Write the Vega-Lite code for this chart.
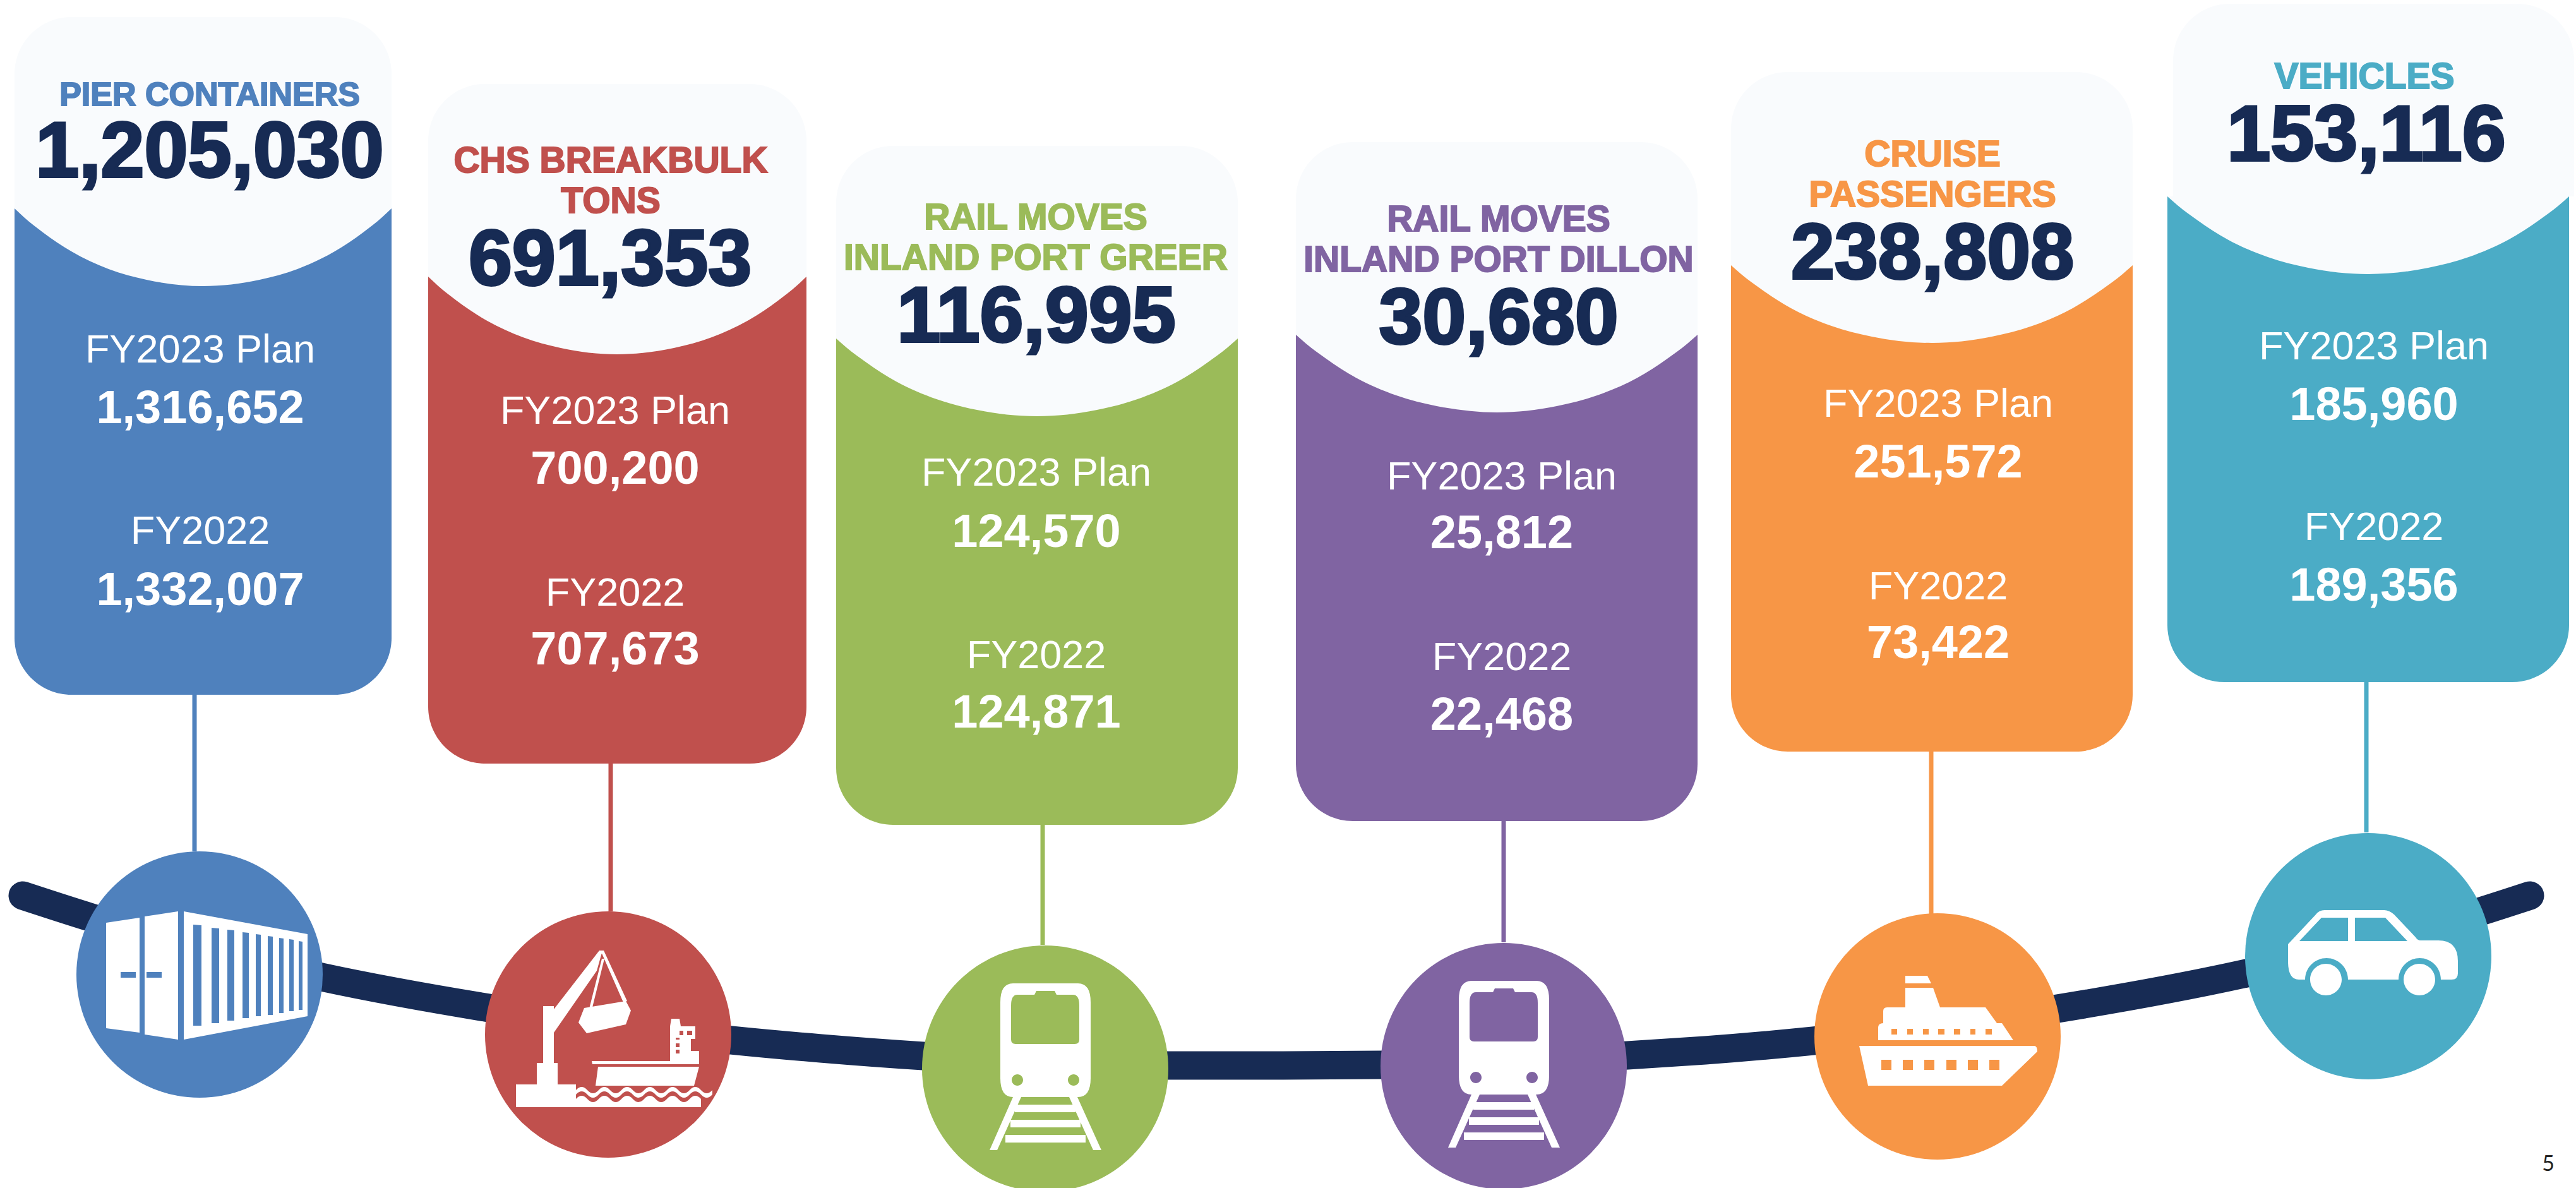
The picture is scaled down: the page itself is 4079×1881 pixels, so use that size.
{"$schema":"https://vega.github.io/schema/vega-lite/v6.json","width":4079,"height":1881,"padding":0,"autosize":{"type":"fit","contains":"padding"},"background":"#ffffff","config":{"view":{"stroke":null},"text":{"font":"Liberation Sans"}},
"datasets":{
"route":[{"px":36,"py":1418},{"px":145,"py":1453},{"px":509,"py":1547},{"px":774,"py":1596},{"px":1158,"py":1647},{"px":1300,"py":1660},{"px":1462,"py":1672},{"px":1849,"py":1687},{"px":2013,"py":1687},{"px":2187,"py":1686},{"px":2577,"py":1671},{"px":2700,"py":1663},{"px":2871,"py":1648},{"px":3258,"py":1597},{"px":3557,"py":1541},{"px":3922,"py":1445},{"px":4006,"py":1418}],
"cards":[
{"card":"pier","left":23,"right":620,"lightLeft":23,"lightRight":620,"top":27,"join":330,"bottom":1100,"cx":316,"cy":1543,"ruleX":308,"circleTop":1348,"icon":"container","actual":1205030,"actualX":332,"actualY":280},
{"card":"breakbulk","left":678,"right":1277,"lightLeft":678,"lightRight":1277,"top":133,"join":438,"bottom":1209,"cx":963,"cy":1638,"ruleX":967,"circleTop":1443,"icon":"crane","actual":691353,"actualX":966,"actualY":451},
{"card":"greer","left":1324,"right":1960,"lightLeft":1324,"lightRight":1960,"top":231,"join":536,"bottom":1306,"cx":1655,"cy":1692,"ruleX":1651,"circleTop":1496,"icon":"train","actual":116995,"actualX":1641,"actualY":541},
{"card":"dillon","left":2052,"right":2688,"lightLeft":2052,"lightRight":2688,"top":225,"join":530,"bottom":1300,"cx":2381,"cy":1688,"ruleX":2381,"circleTop":1492,"icon":"train","actual":30680,"actualX":2373,"actualY":544},
{"card":"cruise","left":2741,"right":3377,"lightLeft":2741,"lightRight":3377,"top":114,"join":420,"bottom":1190,"cx":3068,"cy":1641,"ruleX":3058,"circleTop":1449,"icon":"ship","actual":238808,"actualX":3060,"actualY":441},
{"card":"vehicles","left":3432,"right":4068,"lightLeft":3441,"lightRight":4076,"top":6,"join":311,"bottom":1080,"cx":3750,"cy":1514,"ruleX":3747,"circleTop":1318,"icon":"car","actual":153116,"actualX":3747,"actualY":254}],
"arcs":[
{"card":"pier","ax":23,"base":330,"arc":330},{"card":"pier","ax":38,"base":330,"arc":344},{"card":"pier","ax":68,"base":330,"arc":368},{"card":"pier","ax":113,"base":330,"arc":398},{"card":"pier","ax":172,"base":330,"arc":426},{"card":"pier","ax":232,"base":330,"arc":443},{"card":"pier","ax":321,"base":330,"arc":453},{"card":"pier","ax":411,"base":330,"arc":443},{"card":"pier","ax":471,"base":330,"arc":426},{"card":"pier","ax":530,"base":330,"arc":398},{"card":"pier","ax":575,"base":330,"arc":368},{"card":"pier","ax":605,"base":330,"arc":344},{"card":"pier","ax":620,"base":330,"arc":330},
{"card":"breakbulk","ax":678,"base":438,"arc":438},{"card":"breakbulk","ax":693,"base":438,"arc":452},{"card":"breakbulk","ax":723,"base":438,"arc":476},{"card":"breakbulk","ax":768,"base":438,"arc":506},{"card":"breakbulk","ax":828,"base":438,"arc":534},{"card":"breakbulk","ax":888,"base":438,"arc":551},{"card":"breakbulk","ax":977,"base":438,"arc":561},{"card":"breakbulk","ax":1067,"base":438,"arc":551},{"card":"breakbulk","ax":1127,"base":438,"arc":534},{"card":"breakbulk","ax":1187,"base":438,"arc":506},{"card":"breakbulk","ax":1232,"base":438,"arc":476},{"card":"breakbulk","ax":1262,"base":438,"arc":452},{"card":"breakbulk","ax":1277,"base":438,"arc":438},
{"card":"greer","ax":1324,"base":536,"arc":536},{"card":"greer","ax":1340,"base":536,"arc":550},{"card":"greer","ax":1372,"base":536,"arc":574},{"card":"greer","ax":1419,"base":536,"arc":604},{"card":"greer","ax":1483,"base":536,"arc":632},{"card":"greer","ax":1547,"base":536,"arc":649},{"card":"greer","ax":1642,"base":536,"arc":659},{"card":"greer","ax":1737,"base":536,"arc":649},{"card":"greer","ax":1801,"base":536,"arc":632},{"card":"greer","ax":1865,"base":536,"arc":604},{"card":"greer","ax":1912,"base":536,"arc":574},{"card":"greer","ax":1944,"base":536,"arc":550},{"card":"greer","ax":1960,"base":536,"arc":536},
{"card":"dillon","ax":2052,"base":530,"arc":530},{"card":"dillon","ax":2068,"base":530,"arc":544},{"card":"dillon","ax":2100,"base":530,"arc":568},{"card":"dillon","ax":2147,"base":530,"arc":598},{"card":"dillon","ax":2211,"base":530,"arc":626},{"card":"dillon","ax":2275,"base":530,"arc":643},{"card":"dillon","ax":2370,"base":530,"arc":653},{"card":"dillon","ax":2465,"base":530,"arc":643},{"card":"dillon","ax":2529,"base":530,"arc":626},{"card":"dillon","ax":2593,"base":530,"arc":598},{"card":"dillon","ax":2640,"base":530,"arc":568},{"card":"dillon","ax":2672,"base":530,"arc":544},{"card":"dillon","ax":2688,"base":530,"arc":530},
{"card":"cruise","ax":2741,"base":420,"arc":420},{"card":"cruise","ax":2757,"base":420,"arc":434},{"card":"cruise","ax":2789,"base":420,"arc":458},{"card":"cruise","ax":2836,"base":420,"arc":488},{"card":"cruise","ax":2900,"base":420,"arc":516},{"card":"cruise","ax":2964,"base":420,"arc":533},{"card":"cruise","ax":3059,"base":420,"arc":543},{"card":"cruise","ax":3154,"base":420,"arc":533},{"card":"cruise","ax":3218,"base":420,"arc":516},{"card":"cruise","ax":3282,"base":420,"arc":488},{"card":"cruise","ax":3329,"base":420,"arc":458},{"card":"cruise","ax":3361,"base":420,"arc":434},{"card":"cruise","ax":3377,"base":420,"arc":420},
{"card":"vehicles","ax":3432,"base":311,"arc":311},{"card":"vehicles","ax":3448,"base":311,"arc":325},{"card":"vehicles","ax":3480,"base":311,"arc":349},{"card":"vehicles","ax":3527,"base":311,"arc":379},{"card":"vehicles","ax":3591,"base":311,"arc":407},{"card":"vehicles","ax":3655,"base":311,"arc":424},{"card":"vehicles","ax":3750,"base":311,"arc":434},{"card":"vehicles","ax":3845,"base":311,"arc":424},{"card":"vehicles","ax":3909,"base":311,"arc":407},{"card":"vehicles","ax":3973,"base":311,"arc":379},{"card":"vehicles","ax":4020,"base":311,"arc":349},{"card":"vehicles","ax":4052,"base":311,"arc":325},{"card":"vehicles","ax":4068,"base":311,"arc":311}],
"headers":[
{"card":"pier","line":"PIER CONTAINERS","tx":332,"ty":167},
{"card":"breakbulk","line":"CHS BREAKBULK","tx":967,"ty":273},
{"card":"breakbulk","line":"TONS","tx":967,"ty":337},
{"card":"greer","line":"RAIL MOVES","tx":1640,"ty":363},
{"card":"greer","line":"INLAND PORT GREER","tx":1640,"ty":427},
{"card":"dillon","line":"RAIL MOVES","tx":2373,"ty":366},
{"card":"dillon","line":"INLAND PORT DILLON","tx":2373,"ty":430},
{"card":"cruise","line":"CRUISE","tx":3060,"ty":263},
{"card":"cruise","line":"PASSENGERS","tx":3060,"ty":327},
{"card":"vehicles","line":"VEHICLES","tx":3744,"ty":140}],
"metrics":[
{"card":"pier","metric":"FY2023 Plan","value":1316652,"mx":317,"labelY":574,"valueY":670},
{"card":"pier","metric":"FY2022","value":1332007,"mx":317,"labelY":861,"valueY":958},
{"card":"breakbulk","metric":"FY2023 Plan","value":700200,"mx":974,"labelY":671,"valueY":766},
{"card":"breakbulk","metric":"FY2022","value":707673,"mx":974,"labelY":959,"valueY":1052},
{"card":"greer","metric":"FY2023 Plan","value":124570,"mx":1641,"labelY":769,"valueY":866},
{"card":"greer","metric":"FY2022","value":124871,"mx":1641,"labelY":1058,"valueY":1152},
{"card":"dillon","metric":"FY2023 Plan","value":25812,"mx":2378,"labelY":775,"valueY":868},
{"card":"dillon","metric":"FY2022","value":22468,"mx":2378,"labelY":1061,"valueY":1156},
{"card":"cruise","metric":"FY2023 Plan","value":251572,"mx":3069,"labelY":660,"valueY":756},
{"card":"cruise","metric":"FY2022","value":73422,"mx":3069,"labelY":949,"valueY":1042},
{"card":"vehicles","metric":"FY2023 Plan","value":185960,"mx":3759,"labelY":569,"valueY":665},
{"card":"vehicles","metric":"FY2022","value":189356,"mx":3759,"labelY":855,"valueY":951}],
"page":[{"pageNo":"5","tx":4035,"ty":1854}]
},
"layer":[
{"data":{"name":"route"},"mark":{"type":"line","color":"#172b54","strokeWidth":45,"strokeCap":"round","strokeJoin":"round","interpolate":"monotone"},"encoding":{"x":{"field":"px","type":"quantitative","axis":null,"scale":{"domain":[0,4079],"nice":false,"zero":false}},"y":{"field":"py","type":"quantitative","axis":null,"scale":{"domain":[1881,0],"nice":false,"zero":false}}}},
{"data":{"name":"cards"},"mark":{"type":"rule","strokeWidth":7},"encoding":{"x":{"field":"ruleX","type":"quantitative","axis":null,"scale":{"domain":[0,4079],"nice":false,"zero":false}},"y":{"field":"bottom","type":"quantitative","axis":null,"scale":{"domain":[1881,0],"nice":false,"zero":false}},"y2":{"field":"circleTop"},"color":{"field":"card","type":"nominal","legend":null,"scale":{"domain":["pier","breakbulk","greer","dillon","cruise","vehicles"],"range":["#4f81bd","#c0504d","#9bbb59","#8064a2","#f79646","#4bacc6"]}}}},
{"data":{"name":"cards"},"mark":{"type":"point","shape":"circle","filled":true,"size":152100,"opacity":1,"strokeWidth":0,"clip":true},"encoding":{"x":{"field":"cx","type":"quantitative","axis":null,"scale":{"domain":[0,4079],"nice":false,"zero":false}},"y":{"field":"cy","type":"quantitative","axis":null,"scale":{"domain":[1881,0],"nice":false,"zero":false}},"color":{"field":"card","type":"nominal","legend":null}}},
{"data":{"name":"cards"},"mark":{"type":"rect","cornerRadiusBottomLeft":90,"cornerRadiusBottomRight":90},"encoding":{"x":{"field":"left","type":"quantitative","axis":null,"scale":{"domain":[0,4079],"nice":false,"zero":false}},"x2":{"field":"right"},"y":{"field":"join","type":"quantitative","axis":null,"scale":{"domain":[1881,0],"nice":false,"zero":false}},"y2":{"field":"bottom"},"color":{"field":"card","type":"nominal","legend":null}}},
{"data":{"name":"cards"},"mark":{"type":"rect","color":"#f9fbfd","cornerRadiusTopLeft":90,"cornerRadiusTopRight":90},"encoding":{"x":{"field":"lightLeft","type":"quantitative","axis":null,"scale":{"domain":[0,4079],"nice":false,"zero":false}},"x2":{"field":"lightRight"},"y":{"field":"top","type":"quantitative","axis":null,"scale":{"domain":[1881,0],"nice":false,"zero":false}},"y2":{"field":"join"}}},
{"data":{"name":"arcs"},"mark":{"type":"area","color":"#f9fbfd","interpolate":"monotone","orient":"vertical"},"encoding":{"x":{"field":"ax","type":"quantitative","axis":null,"scale":{"domain":[0,4079],"nice":false,"zero":false}},"y":{"field":"base","type":"quantitative","axis":null,"stack":null,"scale":{"domain":[1881,0],"nice":false,"zero":false}},"y2":{"field":"arc"},"detail":{"field":"card"}}},
{"data":{"name":"headers"},"transform":[{"filter":"datum.card !== 'pier'"}],"mark":{"type":"text","font":"Liberation Sans","fontWeight":"bold","fontSize":57,"align":"center","baseline":"alphabetic","strokeWidth":2},"encoding":{"x":{"field":"tx","type":"quantitative","axis":null,"scale":{"domain":[0,4079],"nice":false,"zero":false}},"y":{"field":"ty","type":"quantitative","axis":null,"scale":{"domain":[1881,0],"nice":false,"zero":false}},"text":{"field":"line"},"color":{"field":"card","type":"nominal","legend":null},"stroke":{"field":"card","type":"nominal","legend":null,"scale":{"domain":["pier","breakbulk","greer","dillon","cruise","vehicles"],"range":["#4f81bd","#c0504d","#9bbb59","#8064a2","#f79646","#4bacc6"]}}}},
{"data":{"name":"headers"},"transform":[{"filter":"datum.card === 'pier'"}],"mark":{"type":"text","font":"Liberation Sans","fontWeight":"bold","fontSize":52,"align":"center","baseline":"alphabetic","strokeWidth":2},"encoding":{"x":{"field":"tx","type":"quantitative","axis":null,"scale":{"domain":[0,4079],"nice":false,"zero":false}},"y":{"field":"ty","type":"quantitative","axis":null,"scale":{"domain":[1881,0],"nice":false,"zero":false}},"text":{"field":"line"},"color":{"field":"card","type":"nominal","legend":null},"stroke":{"field":"card","type":"nominal","legend":null}}},
{"data":{"name":"cards"},"mark":{"type":"text","font":"Liberation Sans","fontWeight":"bold","fontSize":124,"align":"center","baseline":"alphabetic","color":"#172b54","stroke":"#172b54","strokeWidth":4},"encoding":{"x":{"field":"actualX","type":"quantitative","axis":null,"scale":{"domain":[0,4079],"nice":false,"zero":false}},"y":{"field":"actualY","type":"quantitative","axis":null,"scale":{"domain":[1881,0],"nice":false,"zero":false}},"text":{"field":"actual","type":"quantitative","format":","}}},
{"data":{"name":"metrics"},"mark":{"type":"text","font":"Liberation Sans","fontSize":63,"align":"center","baseline":"alphabetic","color":"#ffffff"},"encoding":{"x":{"field":"mx","type":"quantitative","axis":null,"scale":{"domain":[0,4079],"nice":false,"zero":false}},"y":{"field":"labelY","type":"quantitative","axis":null,"scale":{"domain":[1881,0],"nice":false,"zero":false}},"text":{"field":"metric"}}},
{"data":{"name":"metrics"},"mark":{"type":"text","font":"Liberation Sans","fontWeight":"bold","fontSize":74,"align":"center","baseline":"alphabetic","color":"#ffffff"},"encoding":{"x":{"field":"mx","type":"quantitative","axis":null,"scale":{"domain":[0,4079],"nice":false,"zero":false}},"y":{"field":"valueY","type":"quantitative","axis":null,"scale":{"domain":[1881,0],"nice":false,"zero":false}},"text":{"field":"value","type":"quantitative","format":","}}},
{"data":{"name":"cards"},"transform":[{"filter":"datum.icon === 'container'"}],"mark":{"type":"point","filled":true,"size":4,"opacity":1,"fill":"#ffffff","strokeWidth":0,"shape":"M-148,-82L-95,-90V92L-148,85ZM-125,-4V5H-101V-4ZM-87,-92L-34,-100V103L-87,95ZM-84,-4V5H-60V-4ZM-25,-100L171,-64V66L-25,103ZM-10,-79V81H3V-78ZM19,-74V77H31V-73ZM44,-71V73H55V-70ZM68,-67V69H78V-66ZM89,-64V66H97V-63ZM108,-61V64H116V-60ZM126,-58V61H133V-57ZM142,-56V58H149V-55ZM157,-53V56H163V-52Z"},"encoding":{"x":{"field":"cx","type":"quantitative","axis":null,"scale":{"domain":[0,4079],"nice":false,"zero":false}},"y":{"field":"cy","type":"quantitative","axis":null,"scale":{"domain":[1881,0],"nice":false,"zero":false}}}},
{"data":{"name":"cards"},"transform":[{"filter":"datum.icon === 'crane'"}],"mark":{"type":"point","filled":true,"size":4,"opacity":1,"fill":"#ffffff","strokeWidth":0,"shape":"M-146,115V79H-113V45H-103V-45H-86V-40L-14,-133L-9,-133L-18,-101L-86,-3V45H-80V79H-51V115ZM-12,-133L-7,-133L30,-53L24,-51ZM-10,-120L-6,-120L-25,-43L-30,-41ZM-38,-42L28,-53L36,-38L28,-16L-34,-2L-47,-19ZM-16,51H144L136,81H-20ZM-26,42H105L116,26H144V47H-25ZM98,42V-13L100,-25H113L115,-13H138V7H131V42ZM107,5V8H113V5ZM107,14V20H113V14ZM107,24V30H113V24ZM113,-6V1H119V-6ZM125,-6V1H133V-6ZM-51,88q9,-10 18,0t18,0t18,0t18,0t18,0t18,0t18,0t18,0t18,0t18,0t18,0t18,0V95q-9,10 -18,0t-18,0t-18,0t-18,0t-18,0t-18,0t-18,0t-18,0t-18,0t-18,0t-18,0t-18,0ZM-51,115V102q9,-10 18,0t18,0t18,0t18,0t18,0t18,0t18,0t18,0t18,0t18,0t18,0V115Z"},"encoding":{"x":{"field":"cx","type":"quantitative","axis":null,"scale":{"domain":[0,4079],"nice":false,"zero":false}},"y":{"field":"cy","type":"quantitative","axis":null,"scale":{"domain":[1881,0],"nice":false,"zero":false}}}},
{"data":{"name":"cards"},"transform":[{"filter":"datum.icon === 'train'"}],"mark":{"type":"point","filled":true,"size":4,"opacity":1,"fill":"#ffffff","strokeWidth":0,"shape":"M-51,-135H52Q72,-135 72,-105V15Q72,45 52,45H-51Q-71,45 -71,15V-105Q-71,-135 -51,-135ZM-44,-117Q-54,-117 -54,-100V-46Q-54,-39 -47,-39H47Q54,-39 54,-46V-100Q54,-117 44,-117H18L15,-123H-14L-17,-117ZM-53,18a9,9 0 1,0 18,0a9,9 0 1,0 -18,0ZM36,18a9,9 0 1,0 18,0a9,9 0 1,0 -18,0ZM-51,45H-38L-76,129H-88ZM38,45H51L89,129H76ZM-48,57H48V69H-48ZM-55,81H56V93H-55ZM-63,105H64V117H-63Z"},"encoding":{"x":{"field":"cx","type":"quantitative","axis":null,"scale":{"domain":[0,4079],"nice":false,"zero":false}},"y":{"field":"cy","type":"quantitative","axis":null,"scale":{"domain":[1881,0],"nice":false,"zero":false}}}},
{"data":{"name":"cards"},"transform":[{"filter":"datum.icon === 'ship'"}],"mark":{"type":"point","filled":true,"size":4,"opacity":1,"fill":"#ffffff","strokeWidth":0,"shape":"M-124,15H153Q158,15 158,24L102,78H-110ZM-89,37V53H-73V37ZM-55,37V53H-39V37ZM-21,37V53H-5V37ZM14,37V53H30V37ZM48,37V53H64V37ZM82,37V53H98V37ZM-94,6V-14Q-94,-21 -86,-21V-40Q-86,-46 -80,-46H-51V-77H-7L4,-46H76L94,-21H102L120,6ZM-73,-12V-3H-64V-12ZM-48,-12V-3H-39V-12ZM-23,-12V-3H-14V-12ZM1,-12V-3H11V-12ZM26,-12V-3H36V-12ZM52,-12V-3H60V-12ZM76,-12V-3H86V-12ZM-51,-96H-16L-10,-84H-51Z"},"encoding":{"x":{"field":"cx","type":"quantitative","axis":null,"scale":{"domain":[0,4079],"nice":false,"zero":false}},"y":{"field":"cy","type":"quantitative","axis":null,"scale":{"domain":[1881,0],"nice":false,"zero":false}}}},
{"data":{"name":"cards"},"transform":[{"filter":"datum.icon === 'car'"}],"mark":{"type":"point","filled":true,"size":4,"opacity":1,"fill":"#ffffff","strokeWidth":0,"shape":"M-127,-19L-83,-66Q-78,-73 -69,-73H25Q33,-73 41,-66L75,-30Q78,-25 83,-25H111Q142,-25 142,8V27Q142,37 132,37H115A33.5,34 0 0,0 48,37H-32A34,34 0 0,0 -100,37H-110Q-127,37 -127,8ZM-74,-61L-109,-24H-32V-61ZM-21,-61V-24H62L27,-61ZM-92,37a25,25 0 1,0 50,0a25,25 0 1,0 -50,0ZM56,37a25,25 0 1,0 50,0a25,25 0 1,0 -50,0Z"},"encoding":{"x":{"field":"cx","type":"quantitative","axis":null,"scale":{"domain":[0,4079],"nice":false,"zero":false}},"y":{"field":"cy","type":"quantitative","axis":null,"scale":{"domain":[1881,0],"nice":false,"zero":false}}}},
{"data":{"name":"page"},"mark":{"type":"text","font":"Lato","fontSize":34,"align":"center","baseline":"alphabetic","color":"#222222"},"encoding":{"x":{"field":"tx","type":"quantitative","axis":null,"scale":{"domain":[0,4079],"nice":false,"zero":false}},"y":{"field":"ty","type":"quantitative","axis":null,"scale":{"domain":[1881,0],"nice":false,"zero":false}},"text":{"field":"pageNo"}}}
]}
